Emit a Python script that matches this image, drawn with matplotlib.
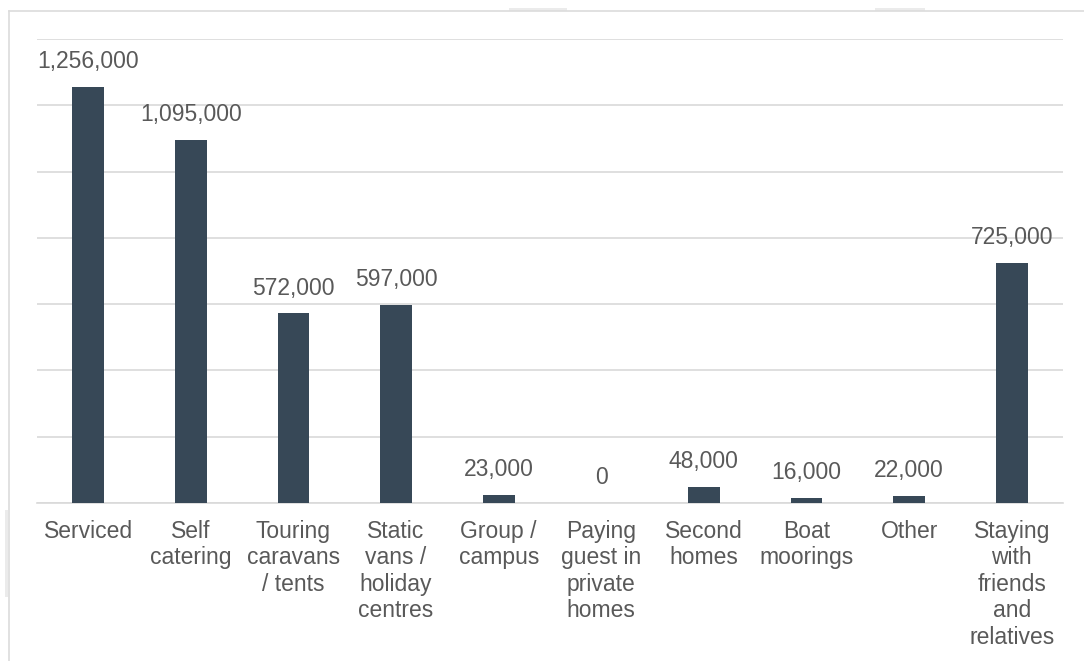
import matplotlib.pyplot as plt
from matplotlib.lines import Line2D
from matplotlib.patches import Rectangle
from matplotlib.ticker import MultipleLocator

# Accommodation types and visitor numbers
categories = ['Serviced', 'Self\ncatering', 'Touring\ncaravans\n/ tents',
              'Static\nvans /\nholiday\ncentres', 'Group /\ncampus',
              'Paying\nguest in\nprivate\nhomes', 'Second\nhomes', 'Boat\nmoorings',
              'Other', 'Staying\nwith\nfriends\nand\nrelatives']
visitors = [1256000, 1095000, 572000, 597000, 23000, 0, 48000, 16000, 22000, 725000]

bar_color = '#374857'
text_color = '#595959'
grid_color = '#d9d9d9'

plt.rcParams['font.family'] = ['Liberation Sans', 'DejaVu Sans']

W, H = 1084, 661
fig = plt.figure(figsize=(W / 100, H / 100), dpi=100)
ax = fig.add_axes([37 / W, 1 - 503 / H, (1063 - 37) / W, (503 - 39) / H])

x = range(len(categories))
ax.bar(x, visitors, width=0.31, color=bar_color, zorder=3)

for xi, v in zip(x, visitors):
    ax.annotate(f'{v:,}', (xi, v), xytext=(0, 10), textcoords='offset points',
                ha='center', va='bottom', fontsize=16.5, color=text_color)

ax.set_xlim(-0.5, len(categories) - 0.5)
ax.set_ylim(0, 1400000)
ax.yaxis.set_major_locator(MultipleLocator(200000))
ax.set_yticklabels([])
ax.tick_params(axis='y', length=0)
ax.grid(axis='y', color=grid_color, linewidth=1.2, zorder=0)

ax.set_xticks(list(x))
ax.set_xticklabels(categories, fontsize=16.5, color=text_color, linespacing=1.2)
ax.tick_params(axis='x', length=0, pad=12)

for s in ['top', 'right', 'left']:
    ax.spines[s].set_visible(False)
ax.spines['bottom'].set_color(grid_color)
ax.spines['bottom'].set_linewidth(1.2)

# light frame around the chart area
fig.add_artist(Line2D([9 / W, 1], [1 - 11 / H, 1 - 11 / H], transform=fig.transFigure,
                      color='#dcdcdc', linewidth=1.2))
fig.add_artist(Line2D([9 / W, 9 / W], [0, 1 - 11 / H], transform=fig.transFigure,
                      color='#dcdcdc', linewidth=1.2))
for x0, x1 in [(509, 567), (875, 925)]:
    fig.add_artist(Rectangle((x0 / W, 1 - 11 / H), (x1 - x0) / W, 3 / H,
                             transform=fig.transFigure, color='#ebebeb', lw=0))
fig.add_artist(Rectangle((5 / W, 1 - 597 / H), 3 / W, 87 / H,
                         transform=fig.transFigure, color='#ebebeb', lw=0))

fig.savefig('out.png', dpi=100, facecolor='white')
